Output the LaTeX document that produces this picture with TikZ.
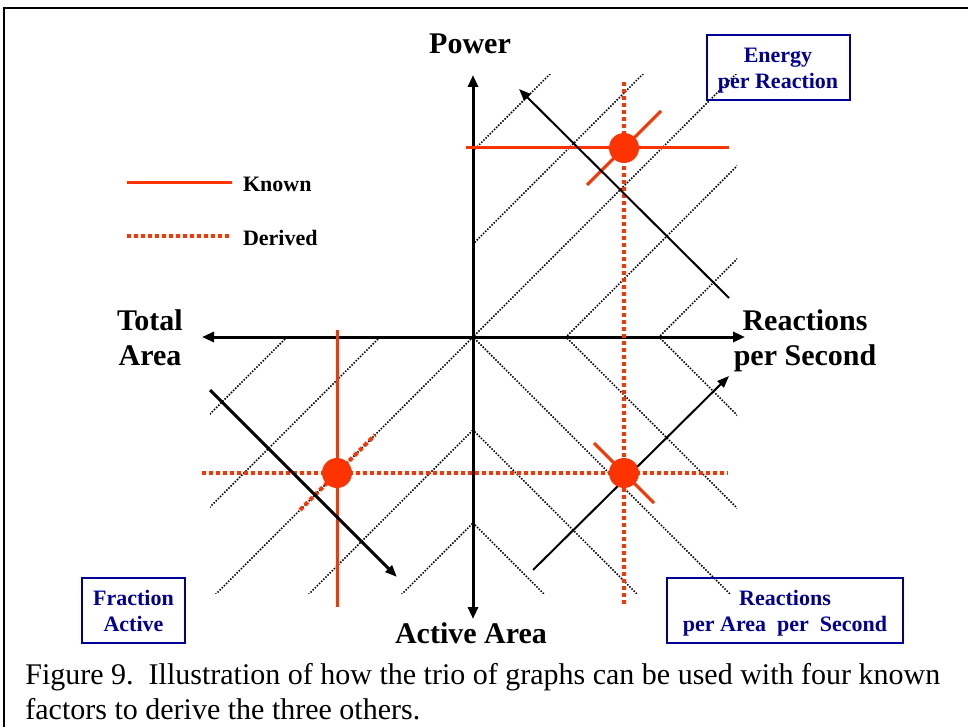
\documentclass[tikz,border=0pt]{standalone}
\usepackage{fontspec}
\setmainfont{Liberation Serif}
\usetikzlibrary{arrows.meta,calc}
\definecolor{fire}{HTML}{FF3300}
\definecolor{navyblue}{HTML}{000099}

\begin{document}
\begin{tikzpicture}[x=0.5pt,y=-0.5pt,
  axis/.style={line width=1.5pt,{Triangle[length=6pt,width=5pt]}-{Triangle[length=6pt,width=5pt]}},
  guide/.style={line width=0.75pt,dash pattern=on 0.75pt off 0.75pt},
  kline/.style={fire,line width=1.5pt},
  dline/.style={fire,line width=2pt,dash pattern=on 2pt off 1.5pt},
  dot/.style={circle,fill=fire,inner sep=0pt,minimum size=15pt},
  arr/.style={-{Triangle[length=6pt,width=4.5pt]},line width=1pt},
  lab/.style={font=\fontsize{15}{17.5}\selectfont\bfseries,align=center},
  leg/.style={font=\fontsize{11}{13}\selectfont\bfseries,anchor=west},
  tag/.style={draw=navyblue,line width=1pt,text=navyblue,align=center,
     font=\fontsize{11}{13}\selectfont\bfseries,inner sep=0pt,
     minimum height=32.5pt,text depth=0pt}]
\useasboundingbox (0,0) rectangle (968,727);
\draw[line width=1pt] (4,727) -- (4,8) -- (968,8);
% dotted guide lines in the three quadrants
\begin{scope}
  \clip (473,75) rectangle (737,337);
  \foreach \c in {-186,-93,0,93,186}
    \draw[guide] (173+\c,637) -- (773+\c,37);
\end{scope}
\begin{scope}
  \clip (210,337) rectangle (473,593);
  \foreach \c in {-186,-93,0,93,186}
    \draw[guide] (173+\c,637) -- (773+\c,37);
\end{scope}
\begin{scope}
  \clip (473,337) rectangle (737,593);
  \foreach \c in {-186,-93,0,93,186}
    \draw[guide] (173+\c,37) -- (773+\c,637);
\end{scope}
% axes
\coordinate (L) at (202,337);
\coordinate (R) at (745,337);
\coordinate (T) at (473,75);
\coordinate (B) at (473,619);
\draw[axis] (L) -- (R);
\draw[axis] (B) -- (T);
\node[lab] (power) at (470,44) {Power};
\node[lab] (total) at (150,338) {Total\\Area};
\node[lab] (rps) at (805,341) {Reactions\\per Second};
\node[lab] (active) at (471,633) {Active Area};
% legend
\coordinate (k1) at (127,183);
\coordinate (k2) at (232,183);
\draw[kline] (k1) -- (k2);
\node[leg] (known) at (236,184) {Known};
\coordinate (d1) at (127,236);
\coordinate (d2) at (232,236);
\draw[dline] (d1) -- (d2);
\node[leg] (derived) at (236,238) {Derived};
% red lines
\coordinate (pE) at (624,148);
\coordinate (pF) at (337,473);
\coordinate (pR) at (624,473);
\coordinate (vTop) at (624,82);
\coordinate (vBot) at (624,605);
\coordinate (hL) at (202,473);
\coordinate (hR) at (728,473);
\coordinate (eL) at (466,148);
\coordinate (eR) at (729,148);
\coordinate (fT) at (337,330);
\coordinate (fB) at (337,607);
\draw[dline] (vTop) -- (vBot);
\draw[dline] (hL) -- (hR);
\draw[kline] (eL) -- (eR);
\draw[kline] (fT) -- (fB);
\draw[kline] ($(pE)+(-37,37)$) -- ($(pE)+(37,-37)$);
\draw[dline] ($(pF)+(-37,37)$) -- ($(pF)+(38,-38)$);
\draw[kline] ($(pR)+(-30,-30)$) -- ($(pR)+(30,30)$);
% black arrows
\coordinate (a1s) at (729,298);
\coordinate (a1e) at (519,89);
\coordinate (a2s) at (210,390);
\coordinate (a2e) at (397,577);
\coordinate (a3s) at (533,570);
\coordinate (a3e) at (729,376);
\draw[arr] (a1s) -- (a1e);
\draw[arr,line width=1.5pt] (a2s) -- (a2e);
\draw[arr] (a3s) -- (a3e);
\node[dot] (dotE) at (pE) {};
\node[dot] (dotF) at (pF) {};
\node[dot] (dotR) at (pR) {};
% boxes
\node[tag,minimum width=71.5pt] (epr) at (778,68) {Energy\\per Reaction};
\node[tag,minimum width=51.5pt] (fa) at (133.5,610.5) {Fraction\\Active};
\node[tag,minimum width=118pt] (rpa) at (785,610.5) {Reactions\\per Area\ \ per\ \ Second};
% caption
\node[anchor=north west,align=left,inner sep=0pt,
  font=\fontsize{15}{17.5}\selectfont] (cap) at (25,663)
  {Figure 9.\ \ Illustration of how the trio of graphs can be used with four known\\
   factors to derive the three others.};
\end{tikzpicture}
\end{document}
